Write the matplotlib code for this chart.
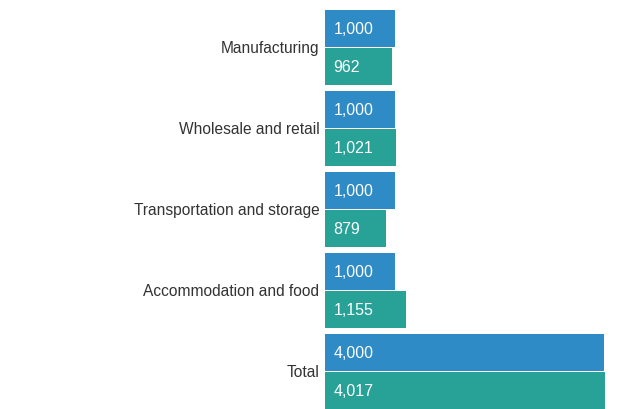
import matplotlib
matplotlib.use("Agg")
import matplotlib.pyplot as plt

categories = ["Manufacturing", "Wholesale and retail", "Transportation and storage",
              "Accommodation and food", "Total"]
series_a = [1000, 1000, 1000, 1000, 4000]
series_b = [962, 1021, 879, 1155, 4017]

blue = "#2e8bc5"
teal = "#28a197"

plt.rcParams["font.family"] = ["Liberation Sans", "DejaVu Sans"]

fig = plt.figure(figsize=(6.2, 4.1), dpi=100)
ax = fig.add_axes([325 / 620, 0, 295 / 620, 1])

step = 81.0
offset = 19 / step
height = 37 / step
ys = list(range(len(categories)))

bars_a = ax.barh([y - offset for y in ys], series_a, height=height, color=blue)
bars_b = ax.barh([y + offset for y in ys], series_b, height=height, color=teal)

for bars, vals in ((bars_a, series_a), (bars_b, series_b)):
    for b, v in zip(bars, vals):
        ax.annotate(f"{v:,}", (0, b.get_y() + b.get_height() / 2),
                    xytext=(6, 0), textcoords="offset points",
                    ha="left", va="center", color="white", fontsize=11.5)

for y, name in zip(ys, categories):
    ax.annotate(name, (0, y), xytext=(-4, 0), textcoords="offset points",
                ha="right", va="center", color="#333333", fontsize=11.2,
                annotation_clip=False)

ax.set_xlim(0, 4000 * 295 / 279)
ax.set_ylim((410 - 48.5) / step, -48.5 / step)
ax.axis("off")

fig.savefig("out.png", dpi=100)
